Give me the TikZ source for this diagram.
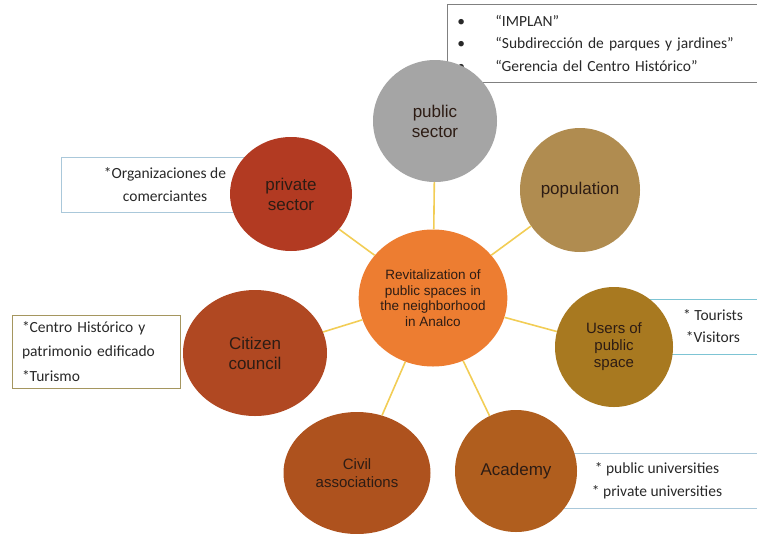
\documentclass[tikz,border=0pt]{standalone}
\usepackage{fontspec}
\setmainfont{Carlito}
\newfontfamily\arialfont{Liberation Sans}
\usepackage{xcolor}
\usetikzlibrary{shapes,positioning}

\definecolor{hubcol}{RGB}{237,125,49}
\definecolor{pubcol}{RGB}{165,165,165}
\definecolor{popcol}{RGB}{176,140,80}
\definecolor{privcol}{RGB}{178,58,34}
\definecolor{councilcol}{RGB}{176,72,34}
\definecolor{civilcol}{RGB}{174,82,30}
\definecolor{acadcol}{RGB}{176,94,30}
\definecolor{userscol}{RGB}{168,121,32}
\definecolor{inkcol}{RGB}{45,28,20}
\definecolor{linkcol}{RGB}{242,205,85}
\definecolor{notetext}{RGB}{40,40,40}
\definecolor{greyline}{RGB}{128,128,128}
\definecolor{blueline}{RGB}{170,200,218}
\definecolor{tealline}{RGB}{125,196,212}
\definecolor{oliveline}{RGB}{165,150,95}

\begin{document}
\begin{tikzpicture}[x=1pt,y=-1pt]
    \tikzstyle{main}=[ellipse, inner sep=0pt, text=inkcol, align=center, font=\arialfont\fontsize{17}{20}\selectfont]
    \tikzstyle{note}=[rectangle, draw, line width=0.9pt, inner sep=0pt, text=notetext, font=\fontsize{15.5}{23}\selectfont]
    \tikzstyle{connect}=[line width=1.6pt, draw=linkcol]
    \useasboundingbox (0,0) rectangle (757,533);
    \clip (0,0) rectangle (757,533);
    % side notes first, the circles lie over them
    \node[note, draw=greyline, anchor=north west, minimum width=330, minimum height=78, inner xsep=10, text width=310, align=left, font=\fontsize{15.5}{22.5}\selectfont] (pubnote) at (447,4)
        {\makebox[38pt][l]{\textbullet}“IMPLAN”\\
         \makebox[38pt][l]{\textbullet}“Subdirección de parques y jardines”\\
         \makebox[38pt][l]{\textbullet}“Gerencia del Centro Histórico”};
    \node[note, draw=blueline, minimum width=208, minimum height=55, align=center] (privnote) at (165,184.5) {*Organizaciones de\\comerciantes};
    \node[note, draw=oliveline, minimum width=168, minimum height=73, inner xsep=10, text width=148, align=left, font=\fontsize{15.5}{24.5}\selectfont] (councilnote) at (96,351.5) {*Centro Histórico y\\patrimonio edificado\\{}*Turismo};
    \node[note, draw=tealline, minimum width=146, minimum height=55, align=center, font=\fontsize{15.5}{22}\selectfont] (usersnote) at (713,326.5) {* Tourists\\{}*Visitors};
    \node[note, draw=blueline, minimum width=234, minimum height=55, align=center] (acadnote) at (657,480.5) {* public universities\\{}* private universities};
    % circles
    \node[main, fill=hubcol, minimum width=136, minimum height=137, font=\arialfont\fontsize{13.5}{15.5}\selectfont] (rev) at (433,298) {Revitalization of\\public spaces in\\the neighborhood\\in Analco};
    \node[main, fill=pubcol, minimum width=124, minimum height=122] (pub) at (435,121) {public\\sector};
    \node[main, fill=popcol, minimum width=120, minimum height=124] (pop) at (580,190) {population};
    \node[main, fill=privcol, minimum width=122, minimum height=114] (priv) at (291,194) {private\\sector};
    \node[main, fill=councilcol, minimum width=144, minimum height=126] (council) at (255,353) {Citizen\\council};
    \node[main, fill=userscol, minimum width=118, minimum height=120, font=\arialfont\fontsize{15}{17}\selectfont] (users) at (614,347) {Users of\\public\\space};
    \node[main, fill=acadcol, minimum width=122, minimum height=122] (acad) at (516,471) {Academy};
    \node[main, fill=civilcol, minimum width=147, minimum height=122, font=\arialfont\fontsize{15}{18}\selectfont] (civil) at (357,473) {Civil\\associations};
    \path (rev) edge [connect] (pub)
    (rev) edge [connect] (pop)
    (rev) edge [connect] (priv)
    (rev) edge [connect] (council)
    (rev) edge [connect] (users)
    (rev) edge [connect] (acad)
    (rev) edge [connect] (civil);
\end{tikzpicture}
\end{document}
